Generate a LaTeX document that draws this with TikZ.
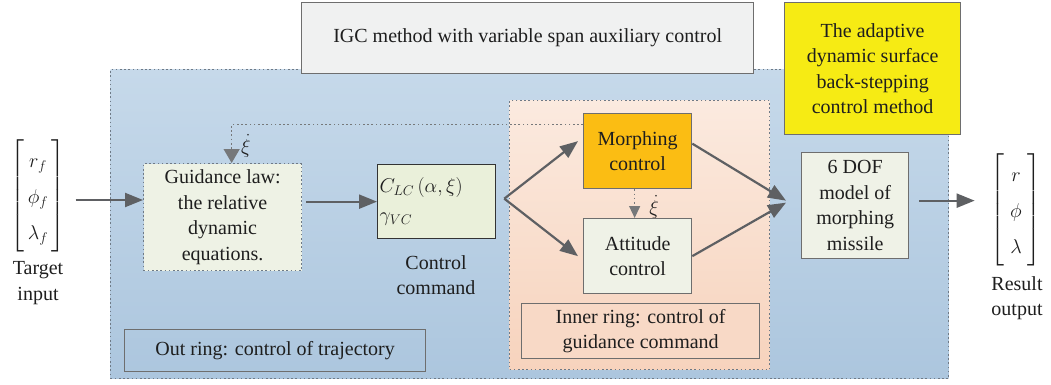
\RequirePackage{fix-cm}
\documentclass[tikz,border=0pt]{standalone}
\usepackage{amsmath}
\usepackage{fontspec}
\setmainfont{Liberation Serif}
\usetikzlibrary{arrows.meta,calc}
\definecolor{blueT}{HTML}{C6D9EA}
\definecolor{blueB}{HTML}{ACC6DE}
\definecolor{peachT}{HTML}{FBEADF}
\definecolor{peachB}{HTML}{F7D3BD}
\definecolor{bordc}{HTML}{6E6E6E}
\definecolor{dotc}{HTML}{6F7A86}
\definecolor{arrc}{HTML}{5E6063}
\definecolor{guidf}{HTML}{EEF2E5}
\definecolor{cmdf}{HTML}{EAF0DA}
\definecolor{morphf}{HTML}{FBBD13}
\definecolor{attf}{HTML}{EFF2E7}
\definecolor{igcf}{HTML}{F0F1F1}
\definecolor{yelf}{HTML}{F6EB14}
\definecolor{inlabf}{HTML}{F8D9C6}
\definecolor{txt}{HTML}{1E1E1E}
\begin{document}
\begin{tikzpicture}[x=1pt,y=1pt,
  every node/.style={font=\fontsize{20}{25.5}\selectfont, text=txt},
  box/.style={draw=bordc, line width=1.3pt, inner sep=0pt, anchor=north west, align=center},
  dotbox/.style={box, draw=dotc, dash pattern=on 1.6pt off 2.6pt},
  arr/.style={draw=arrc, line width=2.2pt, -{Triangle[length=18pt,width=14pt]}},
  darr/.style={draw=arrc!85, line width=1.3pt, dash pattern=on 1.6pt off 2.6pt, -{Triangle[length=14pt,width=16pt]}},
  sarr/.style={draw=arrc!85, line width=1.3pt, dash pattern=on 1.6pt off 2.6pt, -{Triangle[length=12pt,width=11pt]}},
  lbl/.style={align=center, inner sep=0pt}
]
\useasboundingbox (0,0) rectangle (1051,-385);
\fill[white] (0,0) rectangle (1051,-385);
% outer ring
\node[dotbox, top color=blueT, bottom color=blueB, minimum width=838pt, minimum height=309pt] (outer) at (110,-69) {};
% title boxes
\node[box, fill=igcf, minimum width=452pt, minimum height=71pt] (igc) at (301,-2) {IGC method with variable span auxiliary control};
% inner ring
\node[dotbox, top color=peachT, bottom color=peachB, minimum width=260pt, minimum height=269pt] (inner) at (509,-100) {};
\node[box, fill=yelf, minimum width=176pt, minimum height=132pt] (yel) at (784,-2) {The adaptive\\dynamic surface\\back-stepping\\control method};
% blocks
\node[dotbox, fill=guidf, minimum width=158pt, minimum height=107pt] (guid) at (143,-163) {Guidance law:\\the relative\\dynamic\\equations.};
\node[box, draw=black!80, fill=cmdf, minimum width=118pt, minimum height=74pt, align=left, text width=114pt] (cmd) at (377,-164) {$C_{LC}\,(\alpha,\xi)$\\[4pt]$\gamma_{VC}$};
\node[box, fill=morphf, minimum width=108pt, minimum height=75pt] (morph) at (583,-113) {Morphing\\control};
\node[box, fill=attf, minimum width=108pt, minimum height=75pt] (att) at (583,-218) {Attitude\\control};
\node[box, fill=inlabf, minimum width=238pt, minimum height=55pt] (inlab) at (521,-303) {Inner ring: control of\\guidance command};
\node[box, fill=attf, minimum width=107pt, minimum height=106pt] (dof) at (801,-152) {6 DOF\\model of\\morphing\\missile};
\node[box, minimum width=301pt, minimum height=42pt] (outlab) at (124,-329) {Out ring: control of trajectory};
% vectors
\renewcommand{\arraystretch}{1.42}
\node[inner sep=0pt] (tgt) at (38,-196) {$\left[\begin{array}{@{\,}c@{\,}} r_f\\ \phi_f\\ \lambda_f\end{array}\right]$};
\node[lbl] (tgtl) at (38,-283) {Target\\input};
\node[inner sep=0pt] (res) at (1016,-210) {$\left[\begin{array}{@{\;}c@{\;}} r\\ \phi\\ \lambda\end{array}\right]$};
\node[lbl] (resl) at (1017,-298) {Result\\output};
\node[lbl] (cmdl) at (436,-275) {Control\\command};
% connectors
\draw[arr] ([xshift=10pt,yshift=-4pt]tgt.east) -- ([yshift=-4pt]guid.west |- tgt.east);
\draw[arr] ([xshift=4pt]guid.east |- cmd.west) -- (cmd.west);
\coordinate (split) at ([xshift=8pt,yshift=3pt]cmd.east);
\draw[arr] (split) -- ([xshift=-5pt,yshift=10pt]morph.west);
\draw[arr] (split) -- ([xshift=-5pt]att.west);
\draw[arr] ([yshift=7.5pt]morph.east) -- ([xshift=-15pt,yshift=5pt]dof.west);
\draw[arr] (att.east) -- ([xshift=-15pt,yshift=3pt]dof.west);
\coordinate (dofo) at ([xshift=10pt,yshift=5pt]dof.east);
\draw[arr] (dofo) -- ([xshift=-16pt]res.west |- dofo);
\draw[darr] ([yshift=26.5pt]morph.west) -| ([xshift=9pt]guid.north);
\node[inner sep=0pt] (xi1) at (246,-146) {$\dot\xi$};
\draw[sarr] ([xshift=-3pt]morph.south) -- ([xshift=-3pt]att.north);
\node[inner sep=0pt] (xi2) at (654,-207) {$\dot\xi$};
\end{tikzpicture}
\end{document}
